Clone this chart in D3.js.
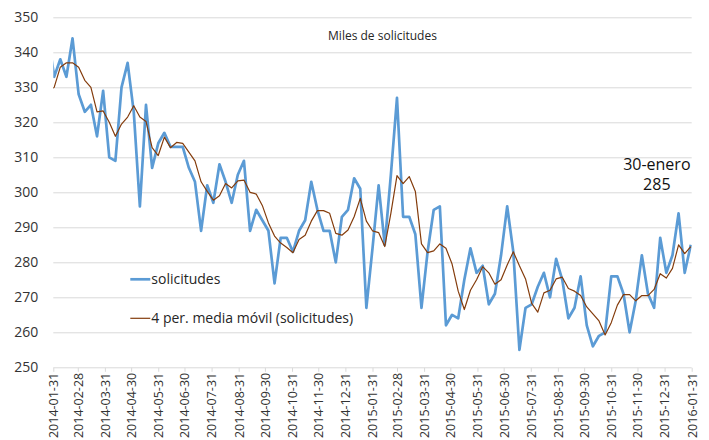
<!DOCTYPE html>
<html>
<head>
<meta charset="utf-8">
<script src="https://cdn.jsdelivr.net/npm/d3@7"></script>
<style>
  body { margin: 0; background: #fff; }
  text { font-family: "Open Sans", sans-serif; }
</style>
</head>
<body>
<script>
// weekly claims, thousands (week ending Saturday), first week is clipped by the axis
var firstWeek = "2014-01-25",
    lastWeek = "2016-01-30"

var solicitudes = [345,
    333, 338, 333, 344, 328, 323, 325, 316, 329, 310,
    309, 330, 337, 323, 296, 325, 307, 314, 317, 313,
    313, 313, 307, 303, 289, 302, 297, 308, 303, 297,
    305, 309, 289, 295, 292, 289, 274, 287, 287, 283,
    289, 292, 303, 295, 289, 289, 280, 293, 295, 304,
    301, 267, 284, 302, 285, 305, 327, 293, 293, 288,
    267, 283, 295, 296, 262, 265, 264, 275, 284, 277,
    279, 268, 271, 282, 296, 283, 255, 267, 268, 273,
    277, 270, 281, 275, 264, 267, 276, 262, 256, 259,
    260, 276, 276, 271, 260, 269, 282, 271, 267, 287,
    277, 282, 294, 277, 285]

var mediaMovil = [329,
    330, 335.75, 337, 337, 335.75, 332, 330, 323, 323.25, 320,
    316, 319.5, 321.5, 324.75, 321.5, 320.25, 312.75, 310.5, 315.75, 312.75,
    314.25, 314, 311.5, 309, 303, 300.25, 297.75, 299, 302.5, 301.25,
    303.25, 303.5, 300, 299.5, 296.25, 291.25, 287.5, 285.5, 284.25, 282.75,
    286.5, 287.75, 291.75, 294.75, 294.75, 294, 288.25, 287.75, 289.25, 293,
    298.25, 291.75, 289, 288.5, 284.5, 294, 304.75, 302.5, 304.5, 300.25,
    285.25, 282.75, 283.25, 285.25, 284, 279.5, 271.75, 266.5, 272, 275,
    278.75, 277, 273.75, 275, 279.25, 283, 279, 275.25, 268.25, 265.75,
    271.25, 272, 275.25, 275.75, 272.5, 271.75, 270.5, 267.25, 265.25, 263.25,
    259.25, 262.75, 267.75, 270.75, 270.75, 269, 270.5, 270.5, 272.25, 276.75,
    275.5, 278.25, 285, 282.5, 284.5]

var yTicks = [250, 260, 270, 280, 290, 300, 310, 320, 330, 340, 350]

var xTickLabels = ["2014-01-31", "2014-02-28", "2014-03-31", "2014-04-30", "2014-05-31",
    "2014-06-30", "2014-07-31", "2014-08-31", "2014-09-30", "2014-10-31", "2014-11-30",
    "2014-12-31", "2015-01-31", "2015-02-28", "2015-03-31", "2015-04-30", "2015-05-31",
    "2015-06-30", "2015-07-31", "2015-08-31", "2015-09-30", "2015-10-31", "2015-11-30",
    "2015-12-31", "2016-01-31"]

var seriesNames = ["solicitudes", "4 per. media móvil (solicitudes)"]
var titulo = "Miles de solicitudes"
var nota = ["30-enero", "285"]

var margin = {top: 17.3, right: 17.3, bottom: 72.7, left: 53.3},
    W = 709, H = 440,
    width = W - margin.left - margin.right,
    height = H - margin.top - margin.bottom

var parse = d3.utcParse("%Y-%m-%d")
var weeks = d3.utcSaturday.range(parse(firstWeek), d3.utcDay.offset(parse(lastWeek), 1))

var data = weeks.map(function (d, i) {
    return {date: d, v: solicitudes[i], m: mediaMovil[i]}
})

var svg = d3.select("body")
    .append("svg")
    .attr("width", W)
    .attr("height", H)

svg.append("rect").attr("width", W).attr("height", H).attr("fill", "#fff")

var g = svg.append("g")
    .attr("transform", "translate(" + margin.left + "," + margin.top + ")")

var x = d3.scaleUtc()
    .domain([parse(xTickLabels[0]), parse(xTickLabels[xTickLabels.length - 1])])
    .range([0, width])

var y = d3.scaleLinear()
    .domain([250, 350])
    .range([height, 0])

// grid
g.selectAll("line.grid")
    .data(yTicks.slice(1))
    .enter()
    .append("line")
    .attr("class", "grid")
    .attr("x1", 0)
    .attr("x2", width)
    .attr("y1", function (d) { return Math.round(y(d)) + 0.5 })
    .attr("y2", function (d) { return Math.round(y(d)) + 0.5 })
    .attr("stroke", "#d9d9d9")
    .attr("stroke-width", 1)

// y labels
g.selectAll("text.ylab")
    .data(yTicks)
    .enter()
    .append("text")
    .attr("class", "ylab")
    .attr("x", -15)
    .attr("y", function (d) { return y(d) })
    .attr("dy", "0.35em")
    .attr("text-anchor", "end")
    .attr("font-size", 14)
    .attr("fill", "#333")
    .text(function (d) { return d })

// x axis
var xAxis = d3.axisBottom(x)
    .tickValues(xTickLabels.map(parse))
    .tickSize(4)
    .tickFormat(d3.utcFormat("%Y-%m-%d"))

var ax = g.append("g")
    .attr("transform", "translate(0," + (Math.round(height) + 0.5) + ")")
    .call(xAxis)

ax.select(".domain").attr("stroke", "#d9d9d9").attr("d", "M0,0H" + width)
ax.selectAll(".tick line").attr("stroke", "#d9d9d9")
ax.selectAll(".tick text")
    .attr("font-family", "Open Sans, sans-serif")
    .attr("font-size", 12.5)
    .attr("fill", "#333")
    .attr("text-anchor", "end")
    .attr("transform", "rotate(-90)")
    .attr("x", -5)
    .attr("y", 0)
    .attr("dy", "0.35em")

// lines
svg.append("clipPath").attr("id", "clip")
    .append("rect").attr("width", width).attr("height", height + 2).attr("y", -2)

var lineV = d3.line()
    .x(function (d) { return x(d.date) })
    .y(function (d) { return y(d.v) })

var lineM = d3.line()
    .x(function (d) { return x(d.date) })
    .y(function (d) { return y(d.m) })

var plot = g.append("g").attr("clip-path", "url(#clip)")

plot.append("path")
    .datum(data)
    .attr("d", lineV)
    .attr("fill", "none")
    .attr("stroke", "#5b9bd5")
    .attr("stroke-width", 2.7)
    .attr("stroke-linejoin", "round")

plot.append("path")
    .datum(data)
    .attr("d", lineM)
    .attr("fill", "none")
    .attr("stroke", "#843c0c")
    .attr("stroke-width", 1.2)
    .attr("stroke-linejoin", "round")

// title
g.append("text")
    .attr("x", width / 2 + 10)
    .attr("y", 23)
    .attr("text-anchor", "middle")
    .attr("font-size", 12)
    .attr("fill", "#262626")
    .text(titulo)

// legend
var legend = g.append("g").attr("transform", "translate(77,262)")
var legendColors = ["#5b9bd5", "#843c0c"],
    legendWidths = [2.7, 1.2]

legend.selectAll("g")
    .data(seriesNames)
    .enter()
    .append("g")
    .attr("transform", function (d, i) { return "translate(0," + i * 39 + ")" })
    .each(function (d, i) {
        var s = d3.select(this)
        s.append("line")
            .attr("x1", 0).attr("x2", 20)
            .attr("stroke", legendColors[i])
            .attr("stroke-width", legendWidths[i])
        s.append("text")
            .attr("x", 21)
            .attr("dy", "0.35em")
            .attr("font-size", 14)
            .attr("fill", "#262626")
            .text(d)
    })

// annotation for last week
var last = data[data.length - 1]
g.selectAll("text.nota")
    .data(nota)
    .enter()
    .append("text")
    .attr("class", "nota")
    .attr("x", x(last.date) - 34)
    .attr("y", function (d, i) { return y(last.v) - 75 + i * 20 })
    .attr("text-anchor", "middle")
    .attr("font-size", 16)
    .attr("fill", "#111")
    .text(function (d) { return d })
</script>
</body>
</html>
